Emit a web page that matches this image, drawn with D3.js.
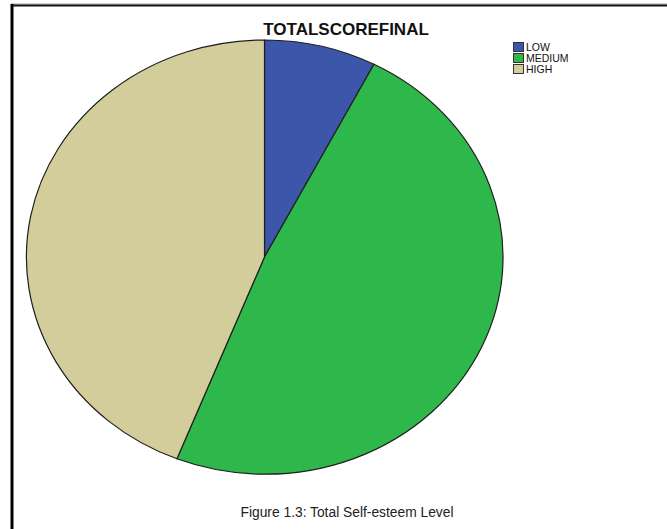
<!DOCTYPE html>
<html>
<head>
<meta charset="utf-8">
<script src="https://cdn.jsdelivr.net/npm/d3@7"></script>
<style>
  html, body { margin: 0; padding: 0; background: #fff; }
  svg { display: block; }
</style>
</head>
<body>
<svg id="chart" width="667" height="529"></svg>
<script>
// Share of respondents per self-esteem level (percent)
const categories = ["LOW", "MEDIUM", "HIGH"];
const values = [7.6, 48.4, 44.0];
const colors = ["#3c56a9", "#2eb84b", "#d3cd9b"];

const svg = d3.select("#chart");
const W = 667, H = 529;

// frame
svg.append("line").attr("x1", 11).attr("x2", W).attr("y1", 4).attr("y2", 4)
  .attr("stroke", "#9a9a9a").attr("stroke-width", 1);
svg.append("line").attr("x1", 11).attr("x2", W).attr("y1", 5.5).attr("y2", 5.5)
  .attr("stroke", "#111").attr("stroke-width", 2);
svg.append("line").attr("x1", 12).attr("x2", 12).attr("y1", 4).attr("y2", H)
  .attr("stroke", "#000").attr("stroke-width", 3);

// title
svg.append("text")
  .attr("x", 346).attr("y", 35)
  .attr("text-anchor", "middle")
  .attr("font-family", "Liberation Sans, Arial, sans-serif")
  .attr("font-weight", "bold")
  .attr("font-size", 17)
  .attr("fill", "#111")
  .text("TOTALSCOREFINAL");

// pie, drawn as an ellipse
const cx = 264.5, cy = 257, rx = 238, ry = 217;
const pie = d3.pie().sort(null).value(d => d.v);
const arcs = pie(categories.map((c, i) => ({ c, v: values[i], col: colors[i] })));
const arc = d3.arc().innerRadius(0).outerRadius(1);

const g = svg.append("g")
  .attr("transform", `translate(${cx},${cy}) scale(${rx},${ry})`);
g.selectAll("path")
  .data(arcs)
  .join("path")
  .attr("d", arc)
  .attr("fill", d => d.data.col)
  .attr("stroke", "#1e1e1e")
  .attr("stroke-width", 1.2)
  .attr("vector-effect", "non-scaling-stroke")
  .attr("stroke-linejoin", "round");

// legend
const legend = svg.append("g").attr("transform", "translate(513,42)");
const items = legend.selectAll("g")
  .data(categories)
  .join("g")
  .attr("transform", (d, i) => `translate(0,${i * 11})`);
items.append("rect")
  .attr("x", 0.5).attr("y", 0.5)
  .attr("width", 10).attr("height", 9)
  .attr("fill", (d, i) => colors[i])
  .attr("stroke", "#333").attr("stroke-width", 1);
items.append("text")
  .attr("x", 13).attr("y", 9)
  .attr("font-family", "Liberation Sans, Arial, sans-serif")
  .attr("font-size", 10.5)
  .attr("fill", "#111")
  .text(d => d);

// caption
svg.append("text")
  .attr("x", 347).attr("y", 517)
  .attr("text-anchor", "middle")
  .attr("font-family", "Liberation Sans, Arial, sans-serif")
  .attr("font-size", 13.8)
  .attr("fill", "#222")
  .text("Figure 1.3: Total Self-esteem Level");
</script>
</body>
</html>
